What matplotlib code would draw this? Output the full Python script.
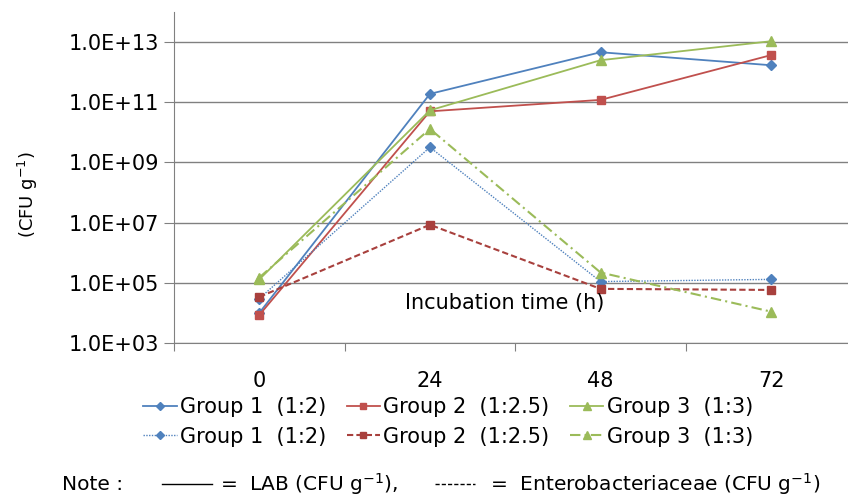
import matplotlib
matplotlib.use("Agg")
import matplotlib.pyplot as plt
from matplotlib.lines import Line2D

# incubation time categories
times = ["0", "24", "48", "72"]
groups = ["Group 1  (1:2)", "Group 2  (1:2.5)", "Group 3  (1:3)"]

# LAB counts (CFU/g)
lab_g1 = [1.0e4, 1.9e11, 4.6e12, 1.7e12]
lab_g2 = [8.5e3, 5.0e10, 1.2e11, 3.7e12]
lab_g3 = [1.3e5, 5.4e10, 2.5e12, 1.07e13]

# Enterobacteriaceae counts (CFU/g)
ent_g1 = [3.0e4, 3.2e9, 1.1e5, 1.3e5]
ent_g2 = [3.4e4, 8.5e6, 6.3e4, 5.8e4]
ent_g3 = [1.5e5, 1.3e10, 2.2e5, 1.1e4]

blue = "#4F81BD"
red = "#C0504D"
green = "#9BBB59"

fs = 15

fig = plt.figure(figsize=(8.48, 4.99), dpi=100)
ax = fig.add_axes([174/848, 156/499, 1 - 174/848 + 0.01, 331/499])

x = range(len(times))
h1, = ax.plot(x, lab_g1, color=blue, lw=1.3, marker="D", ms=5, label=groups[0])
h2, = ax.plot(x, lab_g2, color=red, lw=1.3, marker="s", ms=6, label=groups[1])
h3, = ax.plot(x, lab_g3, color=green, lw=1.3, marker="^", ms=7, label=groups[2])
h4, = ax.plot(x, ent_g1, color=blue, lw=1.0, ls=(0, (1, 1)), marker="D", ms=5, label=groups[0])
h5, = ax.plot(x, ent_g2, color="#A8403D", lw=1.5, ls=(0, (3, 1.5)), marker="s", ms=6, label=groups[1])
h6, = ax.plot(x, ent_g3, color=green, lw=1.5, ls=(0, (5, 2, 1, 2)), marker="^", ms=7, label=groups[2])

ax.set_yscale("log")
ax.set_ylim(1e3, 1e14)
ax.set_xlim(-0.5, 3.5)
ax.set_yticks([1e3, 1e5, 1e7, 1e9, 1e11, 1e13])
ax.set_yticklabels(["1.0E+03", "1.0E+05", "1.0E+07", "1.0E+09", "1.0E+11", "1.0E+13"])
ax.yaxis.set_minor_locator(matplotlib.ticker.NullLocator())
ax.tick_params(axis="y", labelsize=fs, length=7, color="#808080", pad=4)
ax.grid(axis="y", color="#808080", lw=1)
ax.set_axisbelow(True)

ax.set_xticks([-0.5, 0.5, 1.5, 2.5])
ax.set_xticklabels([])
ax.set_xticks(list(x), minor=True)
ax.set_xticklabels(times, minor=True)
ax.tick_params(axis="x", which="major", length=6, color="#808080", direction="out")
ax.tick_params(axis="x", which="minor", length=0, labelsize=fs, pad=20)

for s in ["top", "right"]:
    ax.spines[s].set_visible(False)
ax.spines["left"].set_color("#808080")
ax.spines["bottom"].set_color("#808080")

ax.text(1.44, 2.2e4, "Incubation time (h)", fontsize=fs, ha="center", va="center")
fig.text(28/848, 1 - 195/499, "(CFU g$^{-1}$)", rotation=90, fontsize=13, ha="center", va="center")

leg = fig.legend([h1, h4, h2, h5, h3, h6], [groups[0], groups[0], groups[1], groups[1], groups[2], groups[2]],
                 ncol=3, loc="center", bbox_to_anchor=(448/848, 1 - 422/499), frameon=False,
                 fontsize=fs, handlelength=1.6, handletextpad=0.15, columnspacing=1.0, labelspacing=0.45,
                 markerscale=0.8, borderpad=0)

yn = 1 - 484/499
nfs = 14.5
fig.text(62/848, yn, "Note :", fontsize=nfs, va="center")
fig.add_artist(Line2D([162/848, 212/848], [yn, yn], color="black", lw=1))
fig.text(220/848, yn, "=  LAB (CFU g$^{-1}$),", fontsize=nfs, va="center")
fig.add_artist(Line2D([435/848, 475/848], [yn, yn], color="black", lw=1, ls=(0, (3, 1.5))))
fig.text(490/848, yn, "=  Enterobacteriaceae (CFU g$^{-1}$)", fontsize=nfs, va="center")

fig.savefig("out.png", dpi=100)
